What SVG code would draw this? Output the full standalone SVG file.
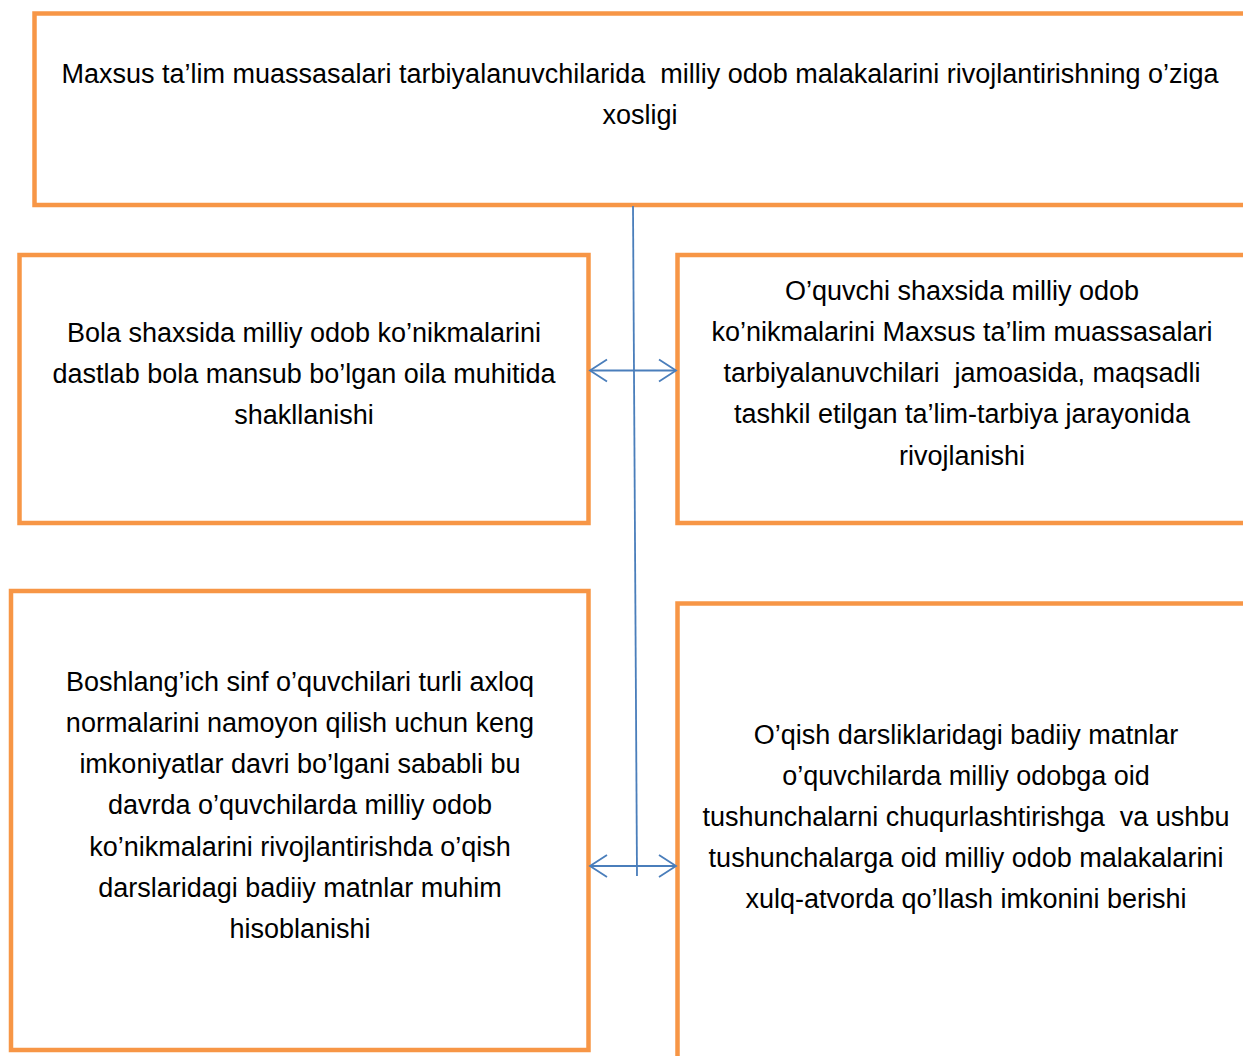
<svg xmlns="http://www.w3.org/2000/svg" width="1243" height="1056" viewBox="0 0 1243 1056">
<defs>
<style>
.box{fill:#ffffff;stroke:#F79646;stroke-width:4.5}
.conn{fill:none;stroke:#4A7EBB;stroke-width:1.8}
.t{font-family:"Liberation Sans",Arial,sans-serif;font-size:27px;fill:#000000;text-anchor:middle}
</style>
<marker id="ah" markerUnits="userSpaceOnUse" markerWidth="24" markerHeight="26" refX="18" refY="12" orient="auto-start-reverse" viewBox="0 0 24 24">
<path d="M1,1 L18,12 L1,23" fill="none" stroke="#4A7EBB" stroke-width="1.8"/>
</marker>
</defs>
<rect width="1243" height="1056" fill="#ffffff"/>
<g id="node-top">
<rect class="box" x="34.5" y="13.5" width="1225" height="191.5"/>
<text class="t" x="640" y="83" xml:space="preserve">Maxsus ta’lim muassasalari tarbiyalanuvchilarida  milliy odob malakalarini rivojlantirishning o’ziga</text>
<text class="t" x="640" y="124">xosligi</text>
</g>
<g id="node-left1">
<rect class="box" x="19.5" y="255" width="569" height="268"/>
<text class="t" x="304" y="342">Bola shaxsida milliy odob ko’nikmalarini</text>
<text class="t" x="304" y="383">dastlab bola mansub bo’lgan oila muhitida</text>
<text class="t" x="304" y="424">shakllanishi</text>
</g>
<g id="node-right1">
<rect class="box" x="677.5" y="255" width="590" height="268"/>
<text class="t" x="962" y="300">O’quvchi shaxsida milliy odob</text>
<text class="t" x="962" y="341">ko’nikmalarini Maxsus ta’lim muassasalari</text>
<text class="t" x="962" y="382" xml:space="preserve">tarbiyalanuvchilari  jamoasida, maqsadli</text>
<text class="t" x="962" y="423">tashkil etilgan ta’lim-tarbiya jarayonida</text>
<text class="t" x="962" y="465">rivojlanishi</text>
</g>
<g id="node-left2">
<rect class="box" x="11" y="591" width="577.5" height="459"/>
<text class="t" x="300" y="691">Boshlang’ich sinf o’quvchilari turli axloq</text>
<text class="t" x="300" y="732">normalarini namoyon qilish uchun keng</text>
<text class="t" x="300" y="773">imkoniyatlar davri bo’lgani sababli bu</text>
<text class="t" x="300" y="814">davrda o’quvchilarda milliy odob</text>
<text class="t" x="300" y="856">ko’nikmalarini rivojlantirishda o’qish</text>
<text class="t" x="300" y="897">darslaridagi badiiy matnlar muhim</text>
<text class="t" x="300" y="938">hisoblanishi</text>
</g>
<g id="node-right2">
<rect class="box" x="677.5" y="603.5" width="590" height="470"/>
<text class="t" x="966" y="744">O’qish darsliklaridagi badiiy matnlar</text>
<text class="t" x="966" y="785">o’quvchilarda milliy odobga oid</text>
<text class="t" x="966" y="826" xml:space="preserve">tushunchalarni chuqurlashtirishga  va ushbu</text>
<text class="t" x="966" y="867">tushunchalarga oid milliy odob malakalarini</text>
<text class="t" x="966" y="908">xulq-atvorda qo’llash imkonini berishi</text>
</g>
<g id="connectors">
<line class="conn" x1="633" y1="206" x2="637" y2="876"/>
<line class="conn" x1="590" y1="370.5" x2="676" y2="370.5" marker-start="url(#ah)" marker-end="url(#ah)"/>
<line class="conn" x1="590" y1="866" x2="676" y2="866" marker-start="url(#ah)" marker-end="url(#ah)"/>
</g>
</svg>
